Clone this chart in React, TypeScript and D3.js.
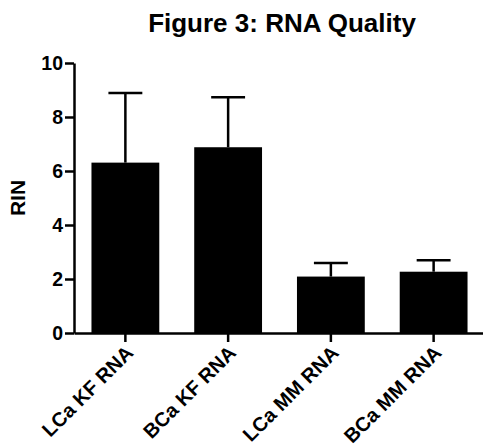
import React, { useEffect, useRef } from "react"
import { scaleBand, scaleLinear, axisLeft, axisBottom, select } from "d3"

/** Chart data */
const categories = ["LCa KF RNA", "BCa KF RNA", "LCa MM RNA", "BCa MM RNA"]
const meanRIN = [6.31, 6.88, 2.09, 2.27]
const sdRIN = [2.58, 1.85, 0.5, 0.42]
const yTicks = [0, 2, 4, 6, 8, 10]

const font = "'Liberation Sans', Arial, Helvetica, sans-serif"

export default function App() {
	/** Chart dimensions */
	const width = 483
	const height = 448
	const left = 74
	const top = 63
	const bottom = 333

	const xScale = scaleBand<string>()
		.domain(categories)
		.range([left, 485])
		.paddingInner(0.34)
		.paddingOuter(0.17)

	const yScale = scaleLinear().domain([0, 10]).range([bottom, top])

	useEffect(() => {
		document.body.style.margin = "0"
	}, [])

	/** y axis */
	const yAxisRef = useRef<SVGGElement>(null)
	useEffect(() => {
		const g = select(yAxisRef.current)
		g.call(axisLeft(yScale).tickValues(yTicks).tickSize(9).tickSizeOuter(0).tickPadding(2) as any)
		g.select(".domain").attr("stroke-width", 2.5)
		g.selectAll(".tick line").attr("stroke-width", 2.5)
		g.selectAll(".tick text")
			.attr("font-family", font)
			.attr("font-weight", "bold")
			.attr("font-size", 19.5)
			.attr("fill", "#000")
	}, [])

	/** x axis */
	const xAxisRef = useRef<SVGGElement>(null)
	useEffect(() => {
		const g = select(xAxisRef.current)
		g.call(axisBottom(xScale).tickSize(9).tickSizeOuter(0) as any)
		g.select(".domain").attr("stroke-width", 2.5)
		g.selectAll(".tick line").attr("stroke-width", 2.5)
		g.selectAll(".tick text")
			.attr("font-family", font)
			.attr("font-weight", "bold")
			.attr("font-size", 20)
			.attr("fill", "#000")
			.attr("text-anchor", "end")
			.attr("dy", 0)
			.attr("y", 0)
			.attr("transform", "translate(9, 21) rotate(-45)")
	}, [])

	const bw = xScale.bandwidth()

	return (
		<svg width={width} height={height} style={{ display: "block", background: "#fff" }}>
			<text x={282} y={32} textAnchor="middle" fontFamily={font} fontWeight="bold" fontSize={26}>
				Figure 3: RNA Quality
			</text>
			<text
				transform={`translate(25, 198) rotate(-90)`}
				textAnchor="middle"
				fontFamily={font}
				fontWeight="bold"
				fontSize={21}
			>
				RIN
			</text>
			<g className="error-bars" stroke="#000" strokeWidth={2.5}>
				{categories.map((c, i) => {
					const cx = xScale(c)! + bw / 2
					const yTop = yScale(meanRIN[i] + sdRIN[i])
					return (
						<g key={c}>
							<line x1={cx} x2={cx} y1={yScale(meanRIN[i])} y2={yTop} />
							<line x1={cx - bw / 4} x2={cx + bw / 4} y1={yTop} y2={yTop} />
						</g>
					)
				})}
			</g>
			<g className="bars">
				{categories.map((c, i) => (
					<rect
						key={c}
						x={xScale(c)}
						y={yScale(meanRIN[i])}
						width={bw}
						height={bottom - yScale(meanRIN[i])}
						fill="#000"
					/>
				))}
			</g>
			<g ref={yAxisRef} transform={`translate(${left}, 0)`} />
			<g ref={xAxisRef} transform={`translate(0, ${bottom})`} />
		</svg>
	)
}
